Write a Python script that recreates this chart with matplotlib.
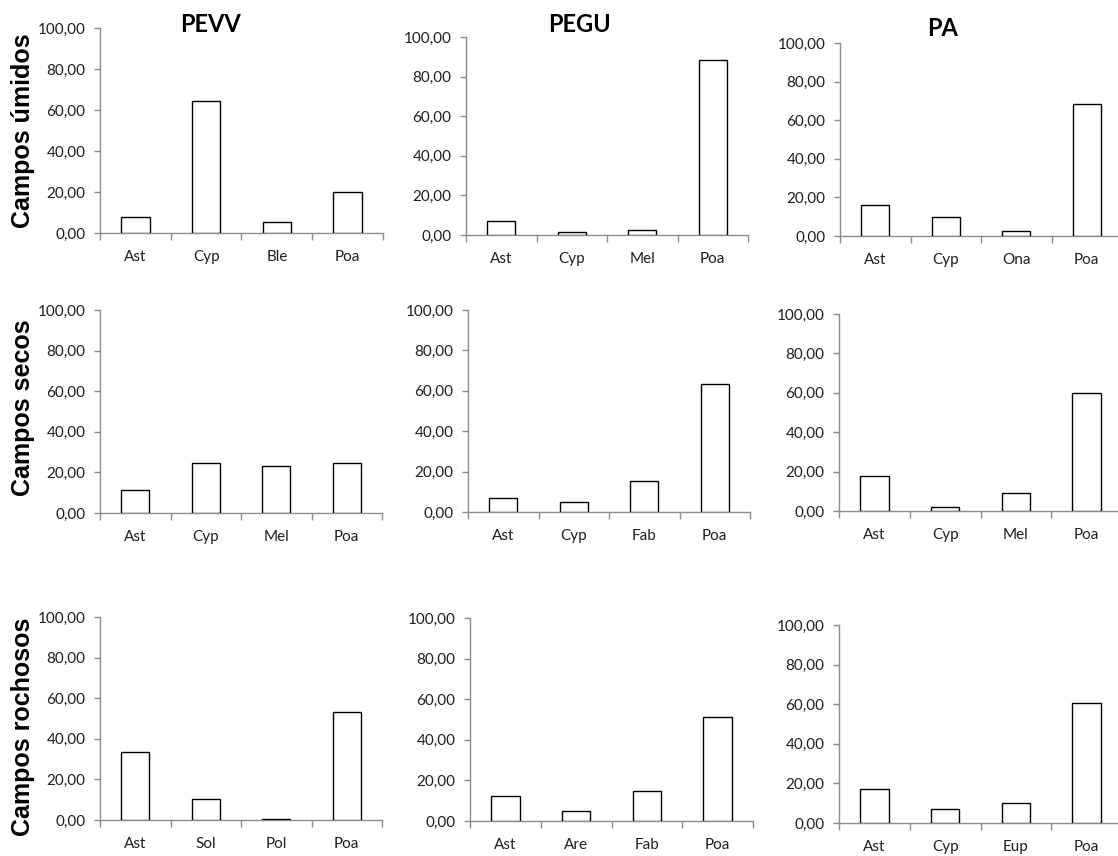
import matplotlib
matplotlib.use("Agg")
from matplotlib import pyplot as plt
from matplotlib import font_manager


# ======== 数据 ========
sites = ["PEVV", "PEGU", "PA"]
habitats = ["Campos úmidos", "Campos secos", "Campos rochosos"]

# 每行一个生境，每列一个地点
umidos_labels = [["Ast", "Cyp", "Ble", "Poa"],
                 ["Ast", "Cyp", "Mel", "Poa"],
                 ["Ast", "Cyp", "Ona", "Poa"]]
umidos_values = [[7.8, 64.5, 5.5, 20.1],
                 [7.0, 1.3, 2.5, 88.3],
                 [16.3, 9.6, 2.4, 68.5]]

secos_labels = [["Ast", "Cyp", "Mel", "Poa"],
                ["Ast", "Cyp", "Fab", "Poa"],
                ["Ast", "Cyp", "Mel", "Poa"]]
secos_values = [[11.3, 24.4, 23.1, 24.7],
                [6.7, 4.9, 15.3, 63.3],
                [18.0, 2.2, 9.3, 60.1]]

rochosos_labels = [["Ast", "Sol", "Pol", "Poa"],
                   ["Ast", "Are", "Fab", "Poa"],
                   ["Ast", "Cyp", "Eup", "Poa"]]
rochosos_values = [[33.6, 10.2, 0.5, 53.3],
                   [12.5, 4.9, 14.8, 51.3],
                   [17.1, 7.1, 9.9, 60.5]]

y_ticks = [0, 20, 40, 60, 80, 100]
# ======================

# 各子图位置（像素：左, 右, 顶(100), 底(0)）
W, H = 1118, 856
boxes = [[(100, 383, 28, 233), (466, 748, 37, 235), (840, 1122, 43, 236)],
         [(100, 382, 310, 513), (468, 750, 310, 512), (839, 1122, 314, 511)],
         [(100, 382, 617, 820), (470, 753, 618, 821), (839, 1122, 625, 823)]]
title_pos = [(211, 25), (580, 25), (943, 28)]
row_label_pos = [(23, 131), (23, 408), (23, 727)]


def pick_font(names):
    avail = {f.name for f in font_manager.fontManager.ttflist}
    for n in names:
        if n in avail:
            return n
    return "DejaVu Sans"


narrow = pick_font(["Liberation Sans Narrow", "Lato", "DejaVu Sans"])
arial = pick_font(["Liberation Sans", "DejaVu Sans"])

AXIS_GREY = "#8c8c8c"
TEXT = "#1f1f1f"

fig = plt.figure(figsize=(W / 100, H / 100), dpi=100)

all_labels = [umidos_labels, secos_labels, rochosos_labels]
all_values = [umidos_values, secos_values, rochosos_values]

for r in range(3):
    for c in range(3):
        x0, x1, yt, yb = boxes[r][c]
        ax = fig.add_axes([x0 / W, 1 - yb / H, (x1 - x0) / W, (yb - yt) / H])
        cats = all_labels[r][c]
        vals = all_values[r][c]
        xs = list(range(len(cats)))
        ax.bar(xs, vals, width=0.4, color="white", edgecolor="black",
               linewidth=1.0, zorder=3)
        ax.set_xlim(-0.5, len(cats) - 0.5)
        ax.set_ylim(0, 100)

        # y 轴
        ax.set_yticks(y_ticks)
        ax.set_yticklabels([f"{v:.2f}".replace(".", ",") for v in y_ticks],
                           fontfamily=narrow, fontsize=11, color=TEXT)
        # x 轴：主刻度在类别边界，类别名放在次刻度
        ax.set_xticks([i - 0.5 for i in range(len(cats) + 1)])
        ax.set_xticklabels([])
        ax.set_xticks(xs, minor=True)
        ax.set_xticklabels(cats, minor=True, fontfamily=narrow,
                           fontsize=11, color=TEXT)
        ax.tick_params(axis="x", which="major", direction="out", length=5,
                       color=AXIS_GREY, width=1)
        ax.tick_params(axis="x", which="minor", length=0, pad=12)
        ax.tick_params(axis="y", direction="out", length=4.5,
                       color=AXIS_GREY, width=1, pad=6)

        for side in ("top", "right"):
            ax.spines[side].set_visible(False)
        for side in ("left", "bottom"):
            ax.spines[side].set_color(AXIS_GREY)
            ax.spines[side].set_linewidth(1)
        ax.set_facecolor("none")

for name, (x, y) in zip(sites, title_pos):
    fig.text(x / W, 1 - y / H, name, ha="center", va="center",
             fontfamily=narrow, fontweight="bold", fontsize=17, color="black")

for name, (x, y) in zip(habitats, row_label_pos):
    fig.text(x / W, 1 - y / H, name, ha="center", va="center", rotation=90,
             fontfamily=arial, fontweight="bold", fontsize=18, color="black")

fig.savefig("out.png", dpi=100)
